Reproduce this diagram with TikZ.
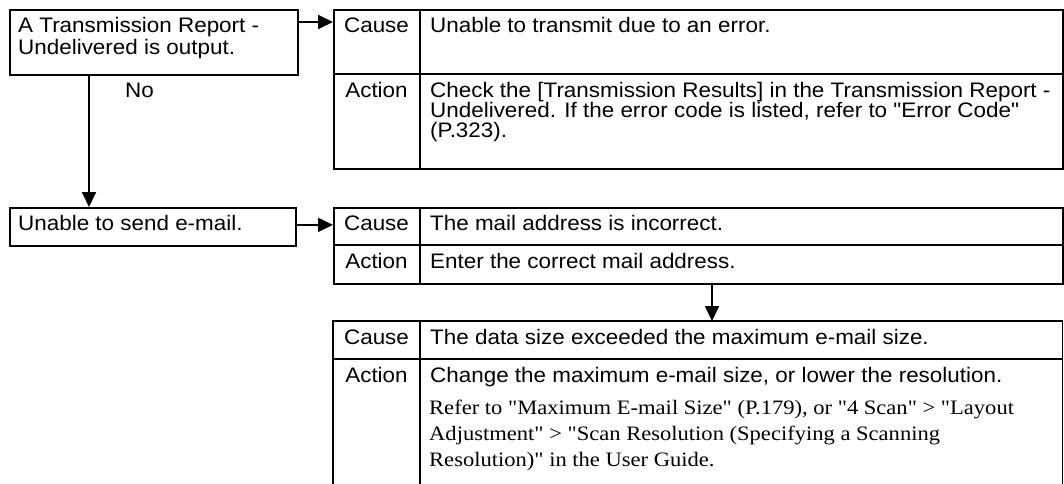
\documentclass[tikz,border=0pt]{standalone}
\usepackage{fontspec}
\newfontfamily\sansx{Liberation Sans}[FakeStretch=1.068]
\newfontfamily\serifx{Liberation Serif}[FakeStretch=1.1]
\usetikzlibrary{arrows.meta}
\begin{document}
\begin{tikzpicture}[x=1pt,y=-1pt,
  frame/.style={draw, line width=1.8pt, rectangle, inner sep=0pt, anchor=north west},
  hollow/.style={rectangle, inner sep=0pt, anchor=north west},
  rule/.style={line width=1.8pt},
  arr/.style={line width=1.8pt, -{Triangle[length=15pt,width=14pt]}},
  txt/.style={anchor=base west, inner sep=0pt, font=\fontsize{21}{24}\selectfont\sansx},
  lbl/.style={anchor=base, inner sep=0pt, font=\fontsize{21}{24}\selectfont\sansx},
  ser/.style={anchor=base west, inner sep=0pt, font=\fontsize{20.5}{26}\selectfont\serifx}]
\useasboundingbox (0,0) rectangle (1064,483);
\clip (0,0) rectangle (1064,483);
\fill[white] (0,0) rectangle (1064,483);

% left boxes
\node[frame, minimum width=288pt, minimum height=65pt] (box1) at (9,9) {};
\node[frame, minimum width=286pt, minimum height=38pt] (box2) at (9,207) {};
\node[txt] (b1a) at (18,32) {A Transmission Report -};
\node[txt] (b1b) at (18,54) {Undelivered is output.};
\node[txt] (b2a) at (18,230) {Unable to send e-mail.};
\node[txt] (no) at (125,97) {No};

% table 1
\node[frame, minimum width=729pt, minimum height=159pt] (t1) at (333,9) {};
\draw[rule] (420,9) -- (420,168);
\draw[rule] (333,74) -- (1062,74);
\node[lbl] (t1c) at (376.5,32) {Cause};
\node[lbl] (t1a) at (376.5,97) {Action};
\node[txt] (t1c1) at (430,32) {Unable to transmit due to an error.};
\node[txt] (t1a1) at (430,97) {Check the [Transmission Results] in the Transmission Report -};
\node[txt] (t1a2) at (430,117) {Undelivered. If the error code is listed, refer to "Error Code"};
\node[txt] (t1a3) at (430,137) {(P.323).};

% table 2
\node[frame, minimum width=729pt, minimum height=76pt] (t2) at (333,207) {};
\draw[rule] (420,207) -- (420,283);
\draw[rule] (333,245) -- (1062,245);
\node[lbl] (t2c) at (376.5,230) {Cause};
\node[lbl] (t2a) at (376.5,268) {Action};
\node[txt] (t2c1) at (430,230) {The mail address is incorrect.};
\node[txt] (t2a1) at (430,268) {Enter the correct mail address.};

% table 3 (open at the bottom)
\node[hollow, minimum width=729pt, minimum height=180pt] (t3) at (333,321) {};
\draw[rule] (t3.south west) -- (t3.north west) -- (t3.north east) -- (t3.south east);
\draw[rule] (420,321) -- (420,500);
\draw[rule] (333,359) -- (1062,359);
\node[lbl] (t3c) at (376.5,344) {Cause};
\node[lbl] (t3a) at (376.5,382) {Action};
\node[txt] (t3c1) at (430,344) {The data size exceeded the maximum e-mail size.};
\node[txt] (t3a1) at (430,382) {Change the maximum e-mail size, or lower the resolution.};
\node[ser] (t3s1) at (429,414) {Refer to "Maximum E-mail Size" (P.179), or "4 Scan" > "Layout};
\node[ser] (t3s2) at (429,440) {Adjustment" > "Scan Resolution (Specifying a Scanning};
\node[ser] (t3s3) at (429,466) {Resolution)" in the User Guide.};

% connectors
\draw[arr] ([yshift=-13pt]box1.north east) -- ([yshift=-13pt]t1.north west);
\draw[arr] ([xshift=80pt]box1.south west) -- ([xshift=80pt]box2.north west);
\draw[arr] ([yshift=2pt]box2.east) -- ([yshift=2pt]box2.east -| t2.west);
\draw[arr] ([xshift=379pt]t2.south west) -- ([xshift=379pt]t3.north west);
\end{tikzpicture}
\end{document}
